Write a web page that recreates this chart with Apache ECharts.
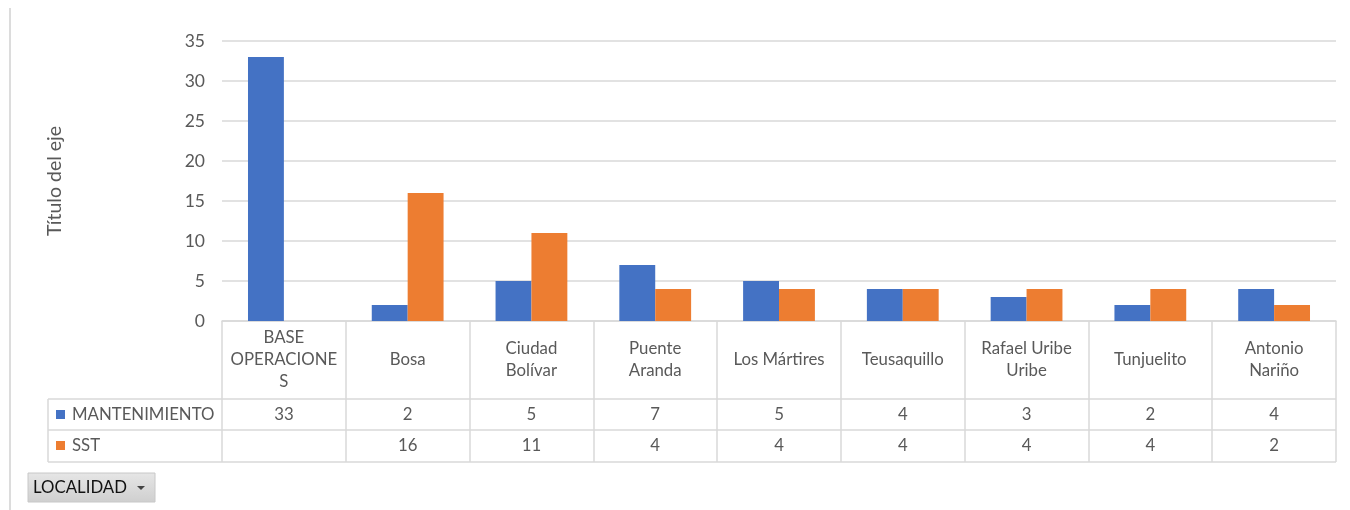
<!DOCTYPE html>
<html><head><meta charset="utf-8">
<script src="https://cdn.jsdelivr.net/npm/echarts@6/dist/echarts.min.js"></script>
<style>html,body{margin:0;padding:0;background:#fff}#c{width:1350px;height:510px}</style>
</head><body><div id="c"></div>
<script>
const categories = ['BASE\nOPERACIONE\nS','Bosa','Ciudad\nBolívar','Puente\nAranda','Los Mártires','Teusaquillo','Rafael Uribe\nUribe','Tunjuelito','Antonio\nNariño'];
const mantenimiento = [33, 2, 5, 7, 5, 4, 3, 2, 4];
const sst = [null, 16, 11, 4, 4, 4, 4, 4, 2];
const seriesNames = ['MANTENIMIENTO', 'SST'];
const yTicks = {min: 0, max: 35, interval: 5};
const axisTitle = 'Título del eje';
const filterLabel = 'LOCALIDAD';

const FONT = 'Lato';
const FS = 16.8;
const TXT = '#595959';
const LINE = '#d9d9d9';
const COLORS = ['#4472C4', '#ED7D31'];
const G = {left: 222, right: 14, top: 41, bottom: 321};

const chart = echarts.init(document.getElementById('c'));
const fmt = v => (v === null || v === undefined) ? '' : String(v);

const tableLines = [];
[399, 430, 462].forEach(y => tableLines.push({type:'line', shape:{x1:48, y1:y, x2:1336, y2:y}, style:{stroke:LINE, lineWidth:1.5}, silent:true}));
tableLines.push({type:'line', shape:{x1:48, y1:399, x2:48, y2:462}, style:{stroke:LINE, lineWidth:1.5}});

chart.setOption({
  animation: false,
  textStyle: {fontFamily: FONT},
  grid: {left: G.left, right: G.right, top: G.top, height: G.bottom - G.top, containLabel: false},
  xAxis: [
    {type:'category', data: categories, position:'bottom',
     axisLine:{show:true, lineStyle:{color:LINE, width:1.5}},
     axisTick:{show:true, length:141, lineStyle:{color:LINE, width:1.5}},
     axisLabel:{interval:0, color:TXT, fontSize:FS, lineHeight:22, margin:39, verticalAlign:'middle', fontFamily:FONT}},
    {type:'category', data: mantenimiento.map(fmt), position:'bottom', gridIndex:0,
     axisLine:{show:false}, axisTick:{show:false},
     axisLabel:{interval:0, color:TXT, fontSize:FS, margin:94, verticalAlign:'middle', fontFamily:FONT}},
    {type:'category', data: sst.map(fmt), position:'bottom', gridIndex:0,
     axisLine:{show:false}, axisTick:{show:false},
     axisLabel:{interval:0, color:TXT, fontSize:FS, margin:125, verticalAlign:'middle', fontFamily:FONT}}
  ],
  yAxis: {type:'value', min:yTicks.min, max:yTicks.max, interval:yTicks.interval,
    name: axisTitle, nameLocation:'middle', nameGap:157, nameRotate:90,
    nameTextStyle:{color:TXT, fontSize:19.5, fontFamily:FONT},
    axisLine:{show:false}, axisTick:{show:false},
    axisLabel:{color:TXT, fontSize:17.5, margin:17, fontFamily:FONT},
    splitLine:{lineStyle:{color:LINE, width:1.5}}},
  series: [
    {name: seriesNames[0], type:'bar', data: mantenimiento, xAxisIndex:0, itemStyle:{color:COLORS[0]}, barGap:'0%', barCategoryGap:'42%'},
    {name: seriesNames[1], type:'bar', data: sst, xAxisIndex:0, itemStyle:{color:COLORS[1]}, barGap:'0%', barCategoryGap:'42%'}
  ],
  graphic: [
    {type:'line', shape:{x1:10, y1:8, x2:10, y2:510}, style:{stroke:'#d0d0d0', lineWidth:1.5}},
    ...tableLines,
    {type:'rect', shape:{x:56, y:410, width:9, height:9}, style:{fill:COLORS[0]}},
    {type:'text', x:72, y:415, style:{text:seriesNames[0], fill:TXT, font:FS + 'px ' + FONT, verticalAlign:'middle'}},
    {type:'rect', shape:{x:56, y:441, width:9, height:9}, style:{fill:COLORS[1]}},
    {type:'text', x:72, y:446, style:{text:seriesNames[1], fill:TXT, font:FS + 'px ' + FONT, verticalAlign:'middle'}},
    {type:'rect', shape:{x:28, y:473, width:127, height:29},
     style:{fill:new echarts.graphic.LinearGradient(0,0,0,1,[{offset:0,color:'#e6e6e6'},{offset:1,color:'#cfcfcf'}]), stroke:'#c8c8c8', lineWidth:1}},
    {type:'text', x:33, y:488, style:{text:filterLabel, fill:'#111', font:FS + 'px ' + FONT, verticalAlign:'middle'}},
    {type:'polygon', shape:{points:[[137,486],[145,486],[141,490]]}, style:{fill:'#444'}}
  ]
});
</script></body></html>
